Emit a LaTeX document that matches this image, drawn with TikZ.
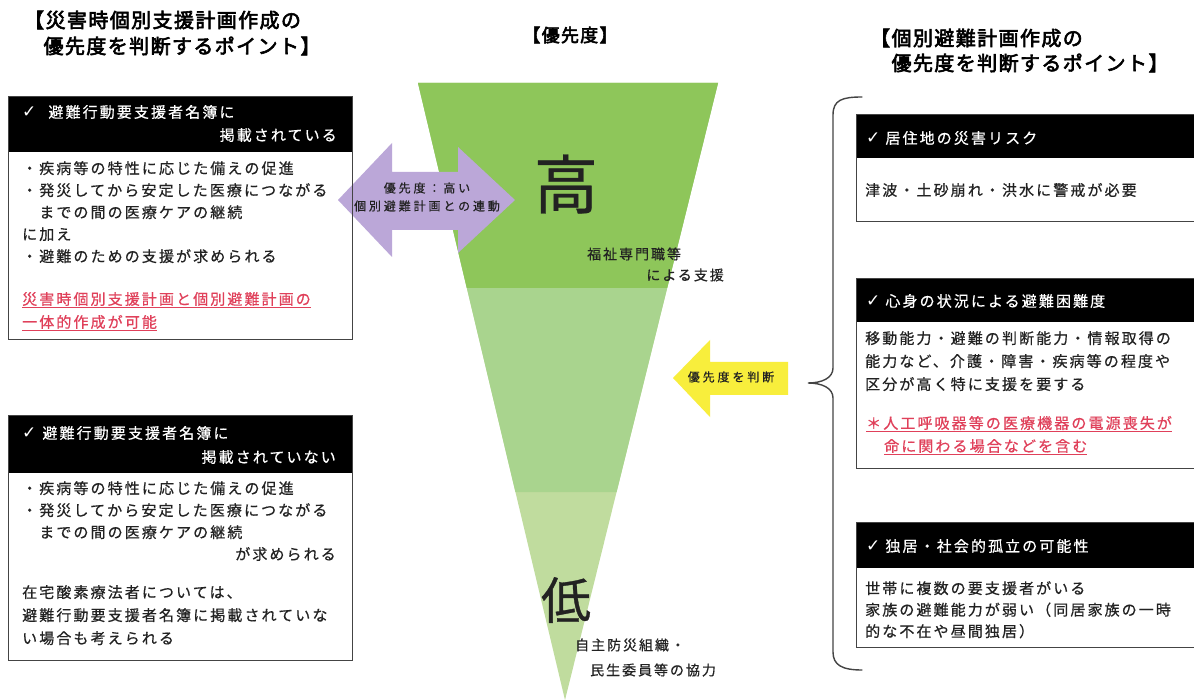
\documentclass[tikz,border=0pt]{standalone}
\usepackage{fontspec}
\setmainfont{Noto Sans CJK JP}
\newfontfamily\jp{Noto Sans CJK JP}[LetterSpace=14,FakeBold=0.6]
\newfontfamily\jpw{Noto Sans CJK JP}[LetterSpace=24,FakeBold=0.6]
\newfontfamily\jpb{Noto Sans CJK JP}[FakeBold=3,LetterSpace=7]
\newfontfamily\jpbig{Noto Sans CJK JP}[FakeBold=0.6]
\newfontfamily\sym{DejaVu Sans}
\definecolor{ink}{HTML}{222222}
\definecolor{redtxt}{HTML}{E0405A}
\definecolor{gtop}{HTML}{8EC65A}
\definecolor{gmid}{HTML}{A9D48E}
\definecolor{gbot}{HTML}{C0DC9E}
\definecolor{lav}{HTML}{BBA7D8}
\definecolor{yel}{HTML}{F8EE3C}
\definecolor{frame}{HTML}{444444}
\tikzset{
  txt/.style={inner sep=0pt, font=\jp\fontsize{15}{22}\selectfont, text=ink, align=left},
  hdr/.style={txt, text=white},
  red/.style={txt, text=redtxt},
  head/.style={inner sep=0pt, font=\jpb\fontsize{20}{26}\selectfont, text=black, anchor=west},
  small/.style={inner sep=0pt, font=\jpw\fontsize{12}{18}\selectfont, text=ink},
  boxframe/.style={draw=frame, line width=1pt},
}
\newcommand\ck{{\sym\fontsize{17}{17}\selectfont ✓}}
\begin{document}
\begin{tikzpicture}[x=1pt,y=-1pt]
\useasboundingbox (0,0) rectangle (1194,700);
\fill[white] (0,0) rectangle (1194,700);

% headings
\node[head] (lh1) at (24,20) {【災害時個別支援計画作成の};
\node[head] (lh2) at (22,46) {　優先度を判断するポイント】};
\node[head, anchor=center, font=\jpb\fontsize{18}{22}\selectfont] (ch) at (570,35) {【優先度】};
\node[head] (rh1) at (870,38) {【個別避難計画作成の};
\node[head] (rh2) at (870,63) {　優先度を判断するポイント】};

% triangle
\fill[gbot] (418,83) -- (718,83) -- (565,700) -- cycle;
\fill[gmid] (418,83) -- (718,83) -- (616.6,492) -- (515.4,492) -- cycle;
\fill[gtop] (418,83) -- (718,83) -- (667.2,288) -- (466.8,288) -- cycle;
\node[inner sep=0pt, font=\jpbig\fontsize{64}{64}\selectfont, text=ink] (hi) at (566,184) {高};
\node[inner sep=0pt, font=\jpbig\fontsize{50}{50}\selectfont, text=ink] (lo) at (566,600) {低};
\node[txt, font=\jp\fontsize{14}{20}\selectfont, anchor=west] (fk1) at (587,254) {福祉専門職等};
\node[txt, font=\jp\fontsize{14}{20}\selectfont, anchor=east] (fk2) at (724,275) {による支援};
\node[txt, font=\jp\fontsize{14}{20}\selectfont, anchor=west] (jm1) at (575,645) {自主防災組織・};
\node[txt, font=\jp\fontsize{14}{20}\selectfont, anchor=west] (jm2) at (590,670) {民生委員等の協力};

% purple double arrow
\fill[lav] (338,200) -- (392,143) -- (392,172) -- (458,172) -- (458,147) -- (515,200)
  -- (458,253) -- (458,230) -- (392,230) -- (392,257) -- cycle;
\node[small] (pa1) at (427,188) {優先度：高い};
\node[small] (pa2) at (427,206) {個別避難計画との連動};

% yellow arrow
\fill[yel] (673,378) -- (710,340) -- (710,362) -- (788,362) -- (788,395) -- (710,395) -- (710,417) -- cycle;
\node[small] (ya) at (731,377) {優先度を判断};

% brace
\draw[frame, line width=1.4pt, line cap=round] (862,97) .. controls (842,97) and (833,100) .. (833,115)
  -- (833,368) .. controls (833,378) and (822,383) .. (808,383)
  .. controls (822,383) and (833,388) .. (833,398)
  -- (833,652) .. controls (833,665) and (842,670) .. (862,670);

% left box 1
\fill[black] (8,97) rectangle (352,152);
\draw[boxframe] (8,97) rectangle (352,340);
\node[hdr, anchor=west] (l1h1) at (22,112) {\ck\hspace{12pt}避難行動要支援者名簿に};
\node[hdr, anchor=east] (l1h2) at (337,135) {掲載されている};
\node[txt, anchor=north west] (l1b) at (22,161) {・疾病等の特性に応じた備えの促進\\・発災してから安定した医療につながる\\　までの間の医療ケアの継続\\に加え\\・避難のための支援が求められる};
\node[red, anchor=west] (l1r1) at (22,300) {\underline{災害時個別支援計画と個別避難計画の}};
\node[red, anchor=west] (l1r2) at (22,323) {\underline{一体的作成が可能}};

% left box 2
\fill[black] (8,415) rectangle (352,473);
\draw[boxframe] (8,415) rectangle (352,660);
\node[hdr, anchor=west] (l2h1) at (22,433) {\ck\hspace{6pt}避難行動要支援者名簿に};
\node[hdr, anchor=east] (l2h2) at (336,457) {掲載されていない};
\node[txt, anchor=north west] (l2b) at (22,481) {・疾病等の特性に応じた備えの促進\\・発災してから安定した医療につながる\\　までの間の医療ケアの継続};
\node[txt, anchor=east] (l2b2) at (336,554) {が求められる};
\node[txt, anchor=north west, font=\jp\fontsize{15}{23}\selectfont] (l2c) at (22,585) {在宅酸素療法者については、\\避難行動要支援者名簿に掲載されていな\\い場合も考えられる};

% right box 1
\fill[black] (856,115) rectangle (1200,158);
\draw[boxframe] (856,115) rectangle (1200,222);
\node[hdr, anchor=west] (r1h) at (866,138) {\ck\hspace{5pt}居住地の災害リスク};
\node[txt, anchor=west] (r1b) at (865,190) {津波・土砂崩れ・洪水に警戒が必要};

% right box 2
\fill[black] (856,279) rectangle (1200,322);
\draw[boxframe] (856,279) rectangle (1200,468);
\node[hdr, anchor=west] (r2h) at (866,301) {\ck\hspace{5pt}心身の状況による避難困難度};
\node[txt, anchor=north west, font=\jp\fontsize{15}{23}\selectfont] (r2b) at (865,331) {移動能力・避難の判断能力・情報取得の\\能力など、介護・障害・疾病等の程度や\\区分が高く特に支援を要する};
\node[red, anchor=west] (r2r1) at (866,424) {\underline{＊人工呼吸器等の医療機器の電源喪失が}};
\node[red, anchor=west] (r2r2) at (884,447) {\underline{命に関わる場合などを含む}};

% right box 3
\fill[black] (856,522) rectangle (1200,568);
\draw[boxframe] (856,522) rectangle (1200,647);
\node[hdr, anchor=west] (r3h) at (866,546) {\ck\hspace{5pt}独居・社会的孤立の可能性};
\node[txt, anchor=north west, font=\jp\fontsize{15}{21.5}\selectfont] (r3b) at (865,581) {世帯に複数の要支援者がいる\\家族の避難能力が弱い（同居家族の一時\\的な不在や昼間独居）};
\end{tikzpicture}
\end{document}
